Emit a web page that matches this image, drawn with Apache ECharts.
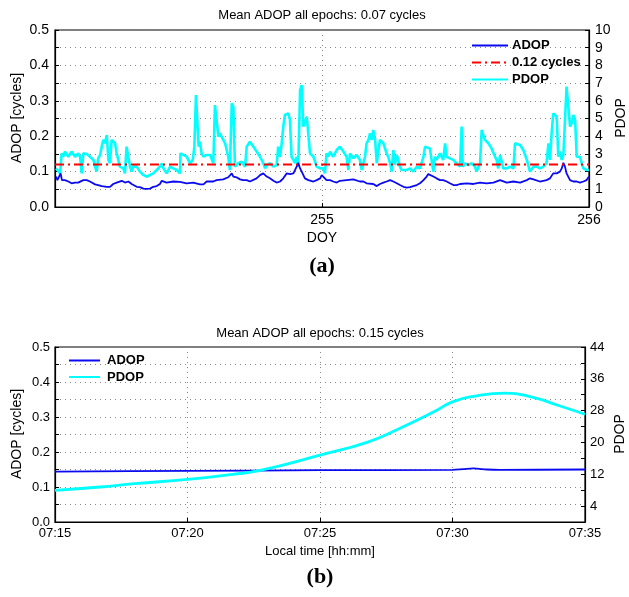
<!DOCTYPE html>
<html><head><meta charset="utf-8">
<script src="https://cdn.jsdelivr.net/npm/echarts@6/dist/echarts.min.js"></script>
<style>html,body{margin:0;padding:0;background:#fff}#c{width:629px;height:597px}</style>
</head><body><div id="c"></div>
<script>
// ---------- Panel (a): DOY vs ADOP / PDOP ----------
const titleA = 'Mean ADOP all epochs: 0.07 cycles';
const titleB = 'Mean ADOP all epochs: 0.15 cycles';
const thresholdA = 0.12;
const thresholdName = '0.12 cycles';

// [DOY, PDOP]
const pdopA = [
[254.004,2.18],[254.019,1.90],[254.025,3.03],[254.031,2.84],[254.037,3.13],[254.050,2.84],[254.062,3.13],[254.075,2.84],[254.087,3.03],[254.094,2.84],
[254.100,1.90],[254.106,3.03],[254.119,2.99],[254.131,2.84],[254.144,2.66],[254.150,2.28],[254.156,2.00],[254.162,2.75],[254.169,2.94],[254.175,3.41],
[254.181,3.79],[254.187,3.60],[254.194,4.07],[254.200,2.66],[254.206,2.47],[254.212,3.79],[254.218,3.88],[254.225,3.60],[254.231,3.03],[254.237,2.66],
[254.243,2.28],[254.256,2.18],[254.262,1.90],[254.268,3.41],[254.275,3.31],[254.281,2.28],[254.287,2.00],[254.293,2.28],[254.300,2.18],[254.306,2.28],
[254.318,2.00],[254.331,1.81],[254.343,1.71],[254.356,1.81],[254.368,1.90],[254.381,2.09],[254.393,2.28],[254.400,2.47],[254.406,2.18],[254.412,2.28],
[254.418,1.90],[254.431,2.28],[254.443,2.18],[254.456,2.09],[254.468,1.90],[254.470,3.03],[254.481,2.94],[254.493,2.84],[254.506,2.47],[254.516,2.66],
[254.522,3.41],[254.528,6.33],[254.533,6.23],[254.538,3.41],[254.543,3.69],[254.549,3.03],[254.556,2.84],[254.568,2.94],[254.581,2.94],[254.593,2.47],
[254.599,5.76],[254.605,5.67],[254.612,3.97],[254.618,4.16],[254.624,3.97],[254.637,3.60],[254.649,2.84],[254.655,2.09],[254.662,5.86],[254.668,5.67],
[254.674,2.28],[254.687,2.47],[254.699,2.56],[254.712,2.28],[254.718,3.41],[254.730,3.69],[254.743,3.41],[254.755,3.13],[254.768,2.84],[254.780,2.47],
[254.787,2.18],[254.793,2.37],[254.805,2.47],[254.818,2.28],[254.830,2.37],[254.836,3.41],[254.843,2.84],[254.849,3.60],[254.855,4.54],[254.861,5.20],
[254.874,5.29],[254.880,4.92],[254.886,2.84],[254.893,2.66],[254.899,2.47],[254.905,2.84],[254.911,2.28],[254.918,6.61],[254.924,6.89],[254.930,4.54],
[254.943,5.10],[254.949,5.20],[254.955,3.03],[254.968,2.84],[254.980,2.28],[254.993,2.18],[255.005,2.18],[255.011,1.90],[255.017,3.03],[255.024,2.84],
[255.030,3.13],[255.042,2.84],[255.055,3.22],[255.067,3.41],[255.080,3.13],[255.092,2.84],[255.099,2.09],[255.105,3.03],[255.117,2.75],[255.130,2.94],
[255.142,2.66],[255.149,2.09],[255.155,2.18],[255.161,2.84],[255.167,3.60],[255.174,3.79],[255.180,4.16],[255.186,3.79],[255.192,4.35],[255.199,3.79],
[255.205,2.47],[255.211,2.37],[255.217,3.79],[255.223,3.88],[255.230,3.60],[255.242,3.03],[255.248,2.84],[255.255,2.47],[255.261,2.00],[255.267,3.22],
[255.273,2.37],[255.280,2.94],[255.286,3.03],[255.292,2.28],[255.298,2.09],[255.305,2.18],[255.317,2.09],[255.330,2.18],[255.342,2.00],[255.355,2.28],
[255.367,2.18],[255.380,2.84],[255.386,3.41],[255.392,3.31],[255.404,3.31],[255.411,3.22],[255.417,2.00],[255.423,2.84],[255.429,2.66],[255.442,3.03],
[255.454,2.66],[255.461,3.60],[255.467,2.84],[255.479,2.75],[255.492,2.66],[255.504,2.47],[255.517,2.28],[255.523,4.54],[255.527,2.28],[255.536,2.47],
[255.548,2.37],[255.561,2.47],[255.573,2.28],[255.579,2.00],[255.592,2.47],[255.598,4.35],[255.604,4.26],[255.610,3.79],[255.623,3.60],[255.635,3.31],
[255.648,2.84],[255.654,2.66],[255.660,2.18],[255.667,2.94],[255.679,2.18],[255.692,2.18],[255.704,2.28],[255.717,2.18],[255.723,3.60],[255.729,3.69],
[255.742,3.50],[255.754,3.22],[255.767,2.66],[255.779,2.00],[255.792,2.28],[255.804,2.28],[255.816,2.18],[255.829,2.28],[255.841,2.47],[255.848,3.60],
[255.854,2.66],[255.860,4.16],[255.866,5.29],[255.873,5.39],[255.879,5.10],[255.885,2.84],[255.891,3.13],[255.898,2.66],[255.904,2.94],[255.910,3.03],
[255.916,6.80],[255.923,6.89],[255.929,4.54],[255.935,4.73],[255.941,5.20],[255.948,4.92],[255.954,2.84],[255.966,2.84],[255.973,2.47],[255.979,2.18],
[255.991,2.09],[256.000,2.09]
];

// [DOY, ADOP cycles]
const adopA = [
[254.004,0.086],[254.009,0.076],[254.016,0.072],[254.021,0.095],[254.026,0.076],[254.037,0.076],[254.050,0.072],[254.062,0.067],[254.075,0.069],[254.087,0.069],
[254.094,0.072],[254.106,0.076],[254.119,0.076],[254.131,0.072],[254.137,0.067],[254.150,0.064],[254.162,0.062],[254.175,0.059],[254.194,0.057],[254.206,0.057],
[254.218,0.065],[254.231,0.069],[254.250,0.074],[254.256,0.076],[254.262,0.069],[254.275,0.072],[254.287,0.065],[254.306,0.057],[254.318,0.056],[254.331,0.052],
[254.343,0.051],[254.356,0.052],[254.368,0.057],[254.381,0.059],[254.393,0.065],[254.400,0.074],[254.406,0.072],[254.418,0.069],[254.443,0.072],[254.468,0.071],
[254.493,0.067],[254.518,0.069],[254.543,0.064],[254.556,0.064],[254.568,0.072],[254.593,0.072],[254.605,0.076],[254.630,0.078],[254.649,0.084],[254.662,0.095],
[254.668,0.086],[254.680,0.084],[254.693,0.078],[254.705,0.076],[254.718,0.076],[254.730,0.072],[254.755,0.081],[254.768,0.090],[254.780,0.095],[254.793,0.086],
[254.805,0.081],[254.818,0.074],[254.830,0.069],[254.843,0.072],[254.855,0.081],[254.868,0.095],[254.880,0.093],[254.893,0.095],[254.905,0.114],[254.911,0.125],
[254.918,0.109],[254.924,0.100],[254.936,0.081],[254.949,0.076],[254.968,0.072],[254.980,0.076],[254.993,0.081],[254.999,0.090],[255.005,0.086],[255.017,0.076],
[255.030,0.076],[255.042,0.072],[255.055,0.069],[255.067,0.074],[255.092,0.076],[255.117,0.078],[255.142,0.072],[255.155,0.072],[255.167,0.067],[255.192,0.065],
[255.205,0.059],[255.217,0.065],[255.230,0.069],[255.242,0.072],[255.255,0.076],[255.267,0.072],[255.280,0.067],[255.292,0.062],[255.305,0.057],[255.317,0.055],
[255.330,0.056],[255.342,0.059],[255.355,0.062],[255.367,0.067],[255.380,0.076],[255.392,0.086],[255.398,0.093],[255.404,0.090],[255.417,0.086],[255.429,0.081],
[255.442,0.076],[255.454,0.076],[255.467,0.072],[255.479,0.067],[255.492,0.062],[255.504,0.062],[255.517,0.065],[255.542,0.067],[255.567,0.065],[255.592,0.069],
[255.617,0.067],[255.642,0.069],[255.667,0.076],[255.692,0.069],[255.717,0.072],[255.742,0.069],[255.767,0.076],[255.779,0.081],[255.792,0.078],[255.816,0.072],
[255.841,0.076],[255.854,0.081],[255.866,0.095],[255.879,0.095],[255.891,0.100],[255.898,0.109],[255.904,0.125],[255.910,0.114],[255.916,0.095],[255.929,0.076],
[255.941,0.072],[255.954,0.072],[255.966,0.069],[255.979,0.072],[255.991,0.076],[256.000,0.086]
];
const doyRange = [254, 256];

// ---------- Panel (b): local time vs ADOP / PDOP ----------
// minutes of the day (07:15 = 435)
const timeB_pdop = [435, 436.7, 438, 440, 441.7, 442.7, 445, 446.8, 448, 449.3, 450, 450.8, 452, 453, 454, 455];
const pdopB      = [7.97, 8.8, 9.65, 10.7, 12.0, 12.9, 16.8, 20.1, 23.5, 27.7, 30.2, 31.6, 32.4, 31.4, 29.3, 27.1];
const timeB_adop = [435, 440, 445, 450, 450.4, 450.8, 451.3, 451.8, 455];
const adopB      = [0.144, 0.146, 0.148, 0.149, 0.151, 0.153, 0.150, 0.149, 0.150];
const pdopBTicks = [4, 12, 20, 28, 36, 44];

const FONT = '"Liberation Sans", Arial, Helvetica, sans-serif';
const BLUE = '#0a0af0', CYAN = '#00ffff', RED = '#ff0000';
const gridLine = {show: true, lineStyle: {color: '#888', type: [1, 4], width: 1}};
const axisLineK = {show: true, onZero: false, lineStyle: {color: '#000', width: 1.2}};
const tickIn = {show: true, inside: true, length: 4, lineStyle: {color: '#000'}};
const pad2 = n => (n < 10 ? '0' : '') + n;

const chart = echarts.init(document.getElementById('c'), null, {renderer: 'canvas'});
chart.setOption({
  animation: false,
  backgroundColor: '#fff',
  grid: [
    {left: 55, right: 40, top: 30, height: 177, show: true, borderColor: '#000', borderWidth: 1.2, backgroundColor: 'transparent'},
    {left: 55, right: 44, top: 347, height: 175, show: true, borderColor: '#000', borderWidth: 1.2, backgroundColor: 'transparent'}
  ],
  xAxis: [
    {type: 'value', gridIndex: 0, min: doyRange[0], max: doyRange[1], interval: 1,
     axisLine: axisLineK, axisTick: tickIn, splitLine: gridLine,
     axisLabel: {margin: 6, fontSize: 14, color: '#000', fontFamily: FONT, showMinLabel: true,
                 formatter: v => (v === doyRange[0] ? '' : String(v))}},
    {type: 'value', gridIndex: 1, min: 435, max: 455, interval: 5,
     axisLine: axisLineK, axisTick: tickIn, splitLine: gridLine,
     axisLabel: {margin: 5, fontSize: 13, color: '#000', fontFamily: FONT,
                 formatter: v => pad2(Math.floor(v / 60)) + ':' + pad2(Math.round(v % 60))}}
  ],
  yAxis: [
    {type: 'value', gridIndex: 0, min: 0, max: 0.5, interval: 0.05, position: 'left',
     axisLine: axisLineK, axisTick: tickIn, splitLine: gridLine,
     axisLabel: {margin: 6, fontSize: 14, color: '#000', fontFamily: FONT,
                 formatter: v => (Math.round(v * 100) % 10 === 0 ? v.toFixed(1) : '')}},
    {type: 'value', gridIndex: 0, min: 0, max: 10, interval: 1, position: 'right',
     axisLine: axisLineK, axisTick: tickIn, splitLine: {show: false},
     axisLabel: {margin: 6, fontSize: 14, color: '#000', fontFamily: FONT}},
    {type: 'value', gridIndex: 1, min: 0, max: 0.5, interval: 0.05, position: 'left',
     axisLine: axisLineK, axisTick: tickIn, splitLine: gridLine,
     axisLabel: {margin: 5, fontSize: 13, color: '#000', fontFamily: FONT,
                 formatter: v => (Math.round(v * 100) % 10 === 0 ? v.toFixed(1) : '')}},
    {type: 'value', gridIndex: 1, min: 0, max: 44, interval: 4, position: 'right',
     axisLine: axisLineK, axisTick: tickIn, splitLine: {show: false},
     axisLabel: {margin: 5, fontSize: 13, color: '#000', fontFamily: FONT,
                 formatter: v => (pdopBTicks.indexOf(v) >= 0 ? String(v) : '')}}
  ],
  legend: [
    {orient: 'vertical', left: 471, top: 39, padding: 0, itemGap: 4, itemWidth: 36, itemHeight: 14,
     itemStyle: {opacity: 0}, data: ['ADOP', thresholdName, 'PDOP'],
     textStyle: {fontSize: 13, fontWeight: 'bold', color: '#000', fontFamily: FONT, padding: [0, 0, 0, -1]}},
    {orient: 'vertical', left: 68, top: 354, padding: 0, itemGap: 3.5, itemWidth: 31, itemHeight: 14,
     itemStyle: {opacity: 0}, data: ['ADOP', 'PDOP'],
     textStyle: {fontSize: 13, fontWeight: 'bold', color: '#000', fontFamily: FONT, padding: [0, 0, 0, 2]}}
  ],
  series: [
    {name: 'PDOP', type: 'line', xAxisIndex: 0, yAxisIndex: 1, data: pdopA, symbol: 'none',
     lineStyle: {color: CYAN, width: 2.6}, itemStyle: {color: CYAN}},
    {name: 'ADOP', type: 'line', xAxisIndex: 0, yAxisIndex: 0, data: adopA, symbol: 'none',
     lineStyle: {color: BLUE, width: 1.8}, itemStyle: {color: BLUE}},
    {name: thresholdName, type: 'line', xAxisIndex: 0, yAxisIndex: 0, symbol: 'none',
     data: [[doyRange[0], thresholdA], [doyRange[1], thresholdA]],
     lineStyle: {color: RED, width: 2, type: [9, 4, 2, 4]}, itemStyle: {color: RED}},
    {name: 'ADOP', type: 'line', xAxisIndex: 1, yAxisIndex: 2, symbol: 'none',
     data: timeB_adop.map((t, i) => [t, adopB[i]]), smooth: 0.3,
     lineStyle: {color: BLUE, width: 1.8}, itemStyle: {color: BLUE}},
    {name: 'PDOP', type: 'line', xAxisIndex: 1, yAxisIndex: 3, symbol: 'none',
     data: timeB_pdop.map((t, i) => [t, pdopB[i]]), smooth: true,
     lineStyle: {color: CYAN, width: 2.8}, itemStyle: {color: CYAN}}
  ],
  graphic: [
    {type: 'text', x: 322, y: 15, style: {text: titleA, align: 'center', verticalAlign: 'middle', textAlign: 'center', textVerticalAlign: 'middle', fontSize: 13, fontFamily: FONT, fill: '#000'}},
    {type: 'text', x: 322, y: 238, style: {text: 'DOY', align: 'center', verticalAlign: 'middle', textAlign: 'center', textVerticalAlign: 'middle', fontSize: 14, fontFamily: FONT, fill: '#000'}},
    {type: 'text', x: 17, y: 118, rotation: Math.PI / 2, style: {text: 'ADOP [cycles]', align: 'center', verticalAlign: 'middle', textAlign: 'center', textVerticalAlign: 'middle', fontSize: 14, fontFamily: FONT, fill: '#000'}},
    {type: 'text', x: 621, y: 118, rotation: Math.PI / 2, style: {text: 'PDOP', align: 'center', verticalAlign: 'middle', textAlign: 'center', textVerticalAlign: 'middle', fontSize: 14, fontFamily: FONT, fill: '#000'}},
    {type: 'text', x: 322, y: 266, style: {text: '(a)', align: 'center', verticalAlign: 'middle', textAlign: 'center', textVerticalAlign: 'middle', fontSize: 22, fontWeight: 'bold', fontFamily: '"Liberation Serif", "Times New Roman", serif', fill: '#000'}},
    {type: 'text', x: 320, y: 333, style: {text: titleB, align: 'center', verticalAlign: 'middle', textAlign: 'center', textVerticalAlign: 'middle', fontSize: 13, fontFamily: FONT, fill: '#000'}},
    {type: 'text', x: 320, y: 551, style: {text: 'Local time [hh:mm]', align: 'center', verticalAlign: 'middle', textAlign: 'center', textVerticalAlign: 'middle', fontSize: 13, fontFamily: FONT, fill: '#000'}},
    {type: 'text', x: 17, y: 434, rotation: Math.PI / 2, style: {text: 'ADOP [cycles]', align: 'center', verticalAlign: 'middle', textAlign: 'center', textVerticalAlign: 'middle', fontSize: 14, fontFamily: FONT, fill: '#000'}},
    {type: 'text', x: 620, y: 434, rotation: Math.PI / 2, style: {text: 'PDOP', align: 'center', verticalAlign: 'middle', textAlign: 'center', textVerticalAlign: 'middle', fontSize: 14, fontFamily: FONT, fill: '#000'}},
    {type: 'text', x: 320, y: 577, style: {text: '(b)', align: 'center', verticalAlign: 'middle', textAlign: 'center', textVerticalAlign: 'middle', fontSize: 22, fontWeight: 'bold', fontFamily: '"Liberation Serif", "Times New Roman", serif', fill: '#000'}}
  ]
});
</script></body></html>
